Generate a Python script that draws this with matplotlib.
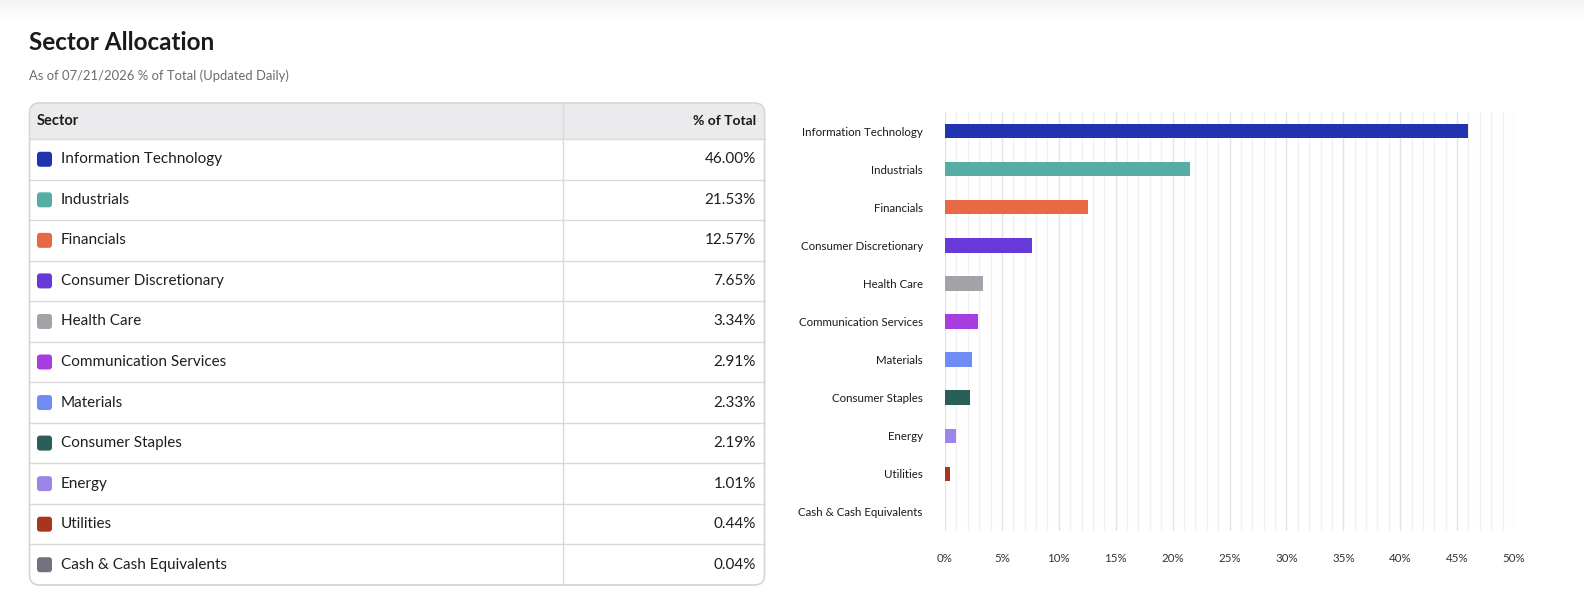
import matplotlib
matplotlib.use('Agg')
import matplotlib.pyplot as plt
import numpy as np
from matplotlib.patches import FancyBboxPatch, Rectangle

plt.rcParams['font.family'] = ['Lato', 'DejaVu Sans']

# ===== DATA =====
sectors = ['Information Technology', 'Industrials', 'Financials',
           'Consumer Discretionary', 'Health Care', 'Communication Services',
           'Materials', 'Consumer Staples', 'Energy', 'Utilities',
           'Cash & Cash Equivalents']
weights = [46.00, 21.53, 12.57, 7.65, 3.34, 2.91, 2.33, 2.19, 1.01, 0.44, 0.04]
colors = ['#2233b0', '#56ada3', '#e76a45', '#6739d9', '#a2a2a8', '#a73ce0',
          '#6f8cf5', '#2a5e59', '#9d84e8', '#a8361e', '#71727d']
x_ticks = [0, 5, 10, 15, 20, 25, 30, 35, 40, 45, 50]

title = 'Sector Allocation'
subtitle = 'As of 07/21/2026 % of Total (Updated Daily)'

# ===== FIGURE =====
W, H = 1584, 612
fig = plt.figure(figsize=(W / 100, H / 100), dpi=100)
fig.patch.set_facecolor('white')

# full-figure axes in pixel coordinates for the table and the titles
bg = fig.add_axes([0, 0, 1, 1])
bg.set_xlim(0, W)
bg.set_ylim(H, 0)
bg.axis('off')

# soft shadow on top
grad = np.linspace(0.955, 1.0, 20).reshape(-1, 1)
bg.imshow(np.dstack([grad, grad, grad]), extent=[0, W, 20, 0], aspect='auto', zorder=0)

bg.text(29, 43, title, fontsize=17.5, fontweight='bold', color='#1a1a1a', va='center')
bg.text(29, 76, subtitle, fontsize=9.4, color='#6b6b70', va='center')

# ----- table -----
tx0, tx1 = 29.5, 764.5
ty0, ty1 = 103, 585
col_x = 563
head_h = 36
row_h = (ty1 - ty0 - head_h) / len(sectors)

frame = FancyBboxPatch((tx0, ty0), tx1 - tx0, ty1 - ty0,
                       boxstyle='round,pad=0,rounding_size=10',
                       facecolor='white', edgecolor='#d6d6da', linewidth=1, zorder=1)
bg.add_patch(frame)
head = Rectangle((tx0, ty0), tx1 - tx0, head_h, facecolor='#ebebed',
                 edgecolor='none', zorder=2)
bg.add_patch(head)
head.set_clip_path(frame)
frame_edge = FancyBboxPatch((tx0, ty0), tx1 - tx0, ty1 - ty0,
                            boxstyle='round,pad=0,rounding_size=10',
                            facecolor='none', edgecolor='#d6d6da', linewidth=1, zorder=5)
bg.add_patch(frame_edge)

bg.plot([col_x, col_x], [ty0, ty1], color='#dadadd', lw=1, zorder=3)
bg.text(37, ty0 + head_h / 2, 'Sector', fontsize=10.5, fontweight='bold',
        color='#1a1a1a', va='center', zorder=4)
bg.text(756, ty0 + head_h / 2, '% of Total', fontsize=10, fontweight='bold',
        color='#1a1a1a', va='center', ha='right', zorder=4)

for i, (name, val, c) in enumerate(zip(sectors, weights, colors)):
    top = ty0 + head_h + i * row_h
    cy = top + row_h / 2
    bg.plot([tx0, tx1], [top, top], color='#d9d9dc', lw=1, zorder=3)
    sw = FancyBboxPatch((37, cy - 7.5), 15, 15,
                        boxstyle='round,pad=0,rounding_size=3',
                        facecolor=c, edgecolor='none', zorder=4)
    bg.add_patch(sw)
    bg.text(61, cy, name, fontsize=11, color='#1f1f1f', va='center', zorder=4)
    bg.text(756, cy, f'{val:.2f}%', fontsize=11, color='#1f1f1f',
            va='center', ha='right', zorder=4)

# ----- bar chart -----
bx0, bx1 = 945, 1514
by_top, by_bot = 112, 531
ax = fig.add_axes([bx0 / W, 1 - by_bot / H, (bx1 - bx0) / W, (by_bot - by_top) / H])
ax.set_facecolor('none')

y = np.arange(len(sectors))
ax.barh(y, weights, height=0.38, color=colors, zorder=3)
ax.set_ylim(len(sectors) - 0.5, -0.5)
ax.set_xlim(0, 50)

ax.set_xticks(x_ticks)
ax.set_xticklabels([f'{t}%' for t in x_ticks])
ax.set_xticks(np.arange(0, 51, 1), minor=True)
ax.set_yticks(y)
ax.set_yticklabels(sectors)

ax.grid(True, axis='x', which='minor', color='#f1f1f3', lw=1, zorder=0)
ax.grid(True, axis='x', which='major', color='#e2e2e5', lw=1, zorder=1)
ax.grid(False, axis='y')
for s in ax.spines.values():
    s.set_visible(False)
ax.tick_params(axis='both', which='both', length=0)
ax.tick_params(axis='y', pad=16, labelsize=8.3, labelcolor='#1a1a1a')
ax.tick_params(axis='x', pad=16, labelsize=8.3, labelcolor='#333333')

plt.savefig('out.png', dpi=100, facecolor='white')
